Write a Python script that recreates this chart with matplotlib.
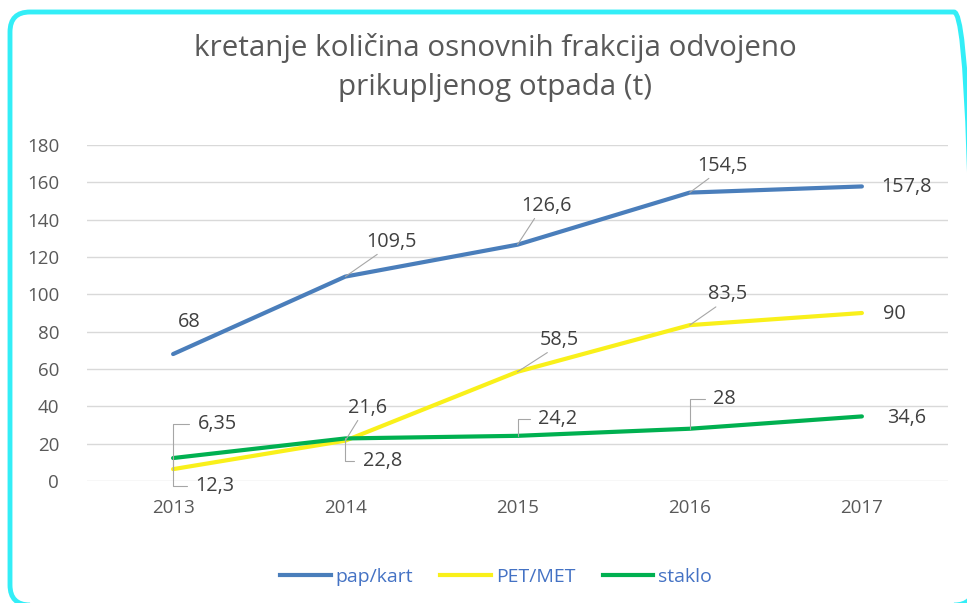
import matplotlib.pyplot as plt
from matplotlib.patches import FancyBboxPatch
from matplotlib.lines import Line2D

plt.rcParams['font.family'] = ['Open Sans', 'DejaVu Sans']

years = ['2013', '2014', '2015', '2016', '2017']
pap_kart = [68, 109.5, 126.6, 154.5, 157.8]
pet_met = [6.35, 21.6, 58.5, 83.5, 90]
staklo = [12.3, 22.8, 24.2, 28, 34.6]
labels_pap = ['68', '109,5', '126,6', '154,5', '157,8']
labels_pet = ['6,35', '21,6', '58,5', '83,5', '90']
labels_sta = ['12,3', '22,8', '24,2', '28', '34,6']

# label offsets in pixels (text centre relative to point) and leader kind
off_pap = [(16, 32), (46, 35), (29, 39), (33, 27), (45, -1)]
lead_pap = [None, 'diag', 'diag', 'diag', None]
off_pet = [(44, 45), (22, 33), (42, 32), (38, 31), (32, -1)]
lead_pet = ['elbow', 'diag', 'diag', 'diag', None]
off_sta = [(42, -28), (37, -23), (40, 17), (35, 30), (45, -2)]
lead_sta = ['elbow', 'elbow', 'elbow', 'elbow', None]

c_pap = '#4A7EBB'
c_pet = '#F9F01A'
c_sta = '#00B050'
txt = '#595959'

fig = plt.figure(figsize=(9.67, 6.03), dpi=100)
ax = fig.add_axes([87 / 967, 1 - 481 / 603, (948 - 87) / 967, (481 - 145) / 603])

x = list(range(len(years)))
ax.plot(x, pap_kart, color=c_pap, lw=3, solid_capstyle='round', zorder=3)
ax.plot(x, pet_met, color=c_pet, lw=3, solid_capstyle='round', zorder=3)
ax.plot(x, staklo, color=c_sta, lw=3, solid_capstyle='round', zorder=4)

ax.set_xlim(-0.5, 4.5)
ax.set_ylim(0, 180)
ax.set_yticks(range(0, 181, 20))
ax.set_xticks(x)
ax.set_xticklabels(years)
ax.grid(axis='y', color='#D9D9D9', lw=1)
ax.set_axisbelow(True)
for s in ax.spines.values():
    s.set_visible(False)
ax.tick_params(length=0, labelsize=13.5, colors=txt)
ax.tick_params(axis='y', pad=20)
ax.tick_params(axis='x', pad=13)

def put_labels(vals, labs, offs, leads):
    for i, (v, lab, off, ld) in enumerate(zip(vals, labs, offs, leads)):
        ap = None
        if ld == 'diag':
            ap = dict(arrowstyle='-', color='#A6A6A6', lw=0.8, shrinkA=0, shrinkB=0,
                      relpos=(0.3, 0.0))
        elif ld == 'elbow':
            ap = dict(arrowstyle='-', color='#A6A6A6', lw=0.8, shrinkA=4, shrinkB=0,
                      relpos=(0.0, 0.5),
                      connectionstyle='angle,angleA=0,angleB=90,rad=0')
        ax.annotate(lab, (i, v), xytext=off, textcoords='offset pixels',
                    ha='center', va='center', fontsize=14.3, color='#404040',
                    arrowprops=ap, zorder=5)

put_labels(pap_kart, labels_pap, off_pap, lead_pap)
put_labels(pet_met, labels_pet, off_pet, lead_pet)
put_labels(staklo, labels_sta, off_sta, lead_sta)

fig.text(0.512, 1 - 48 / 603, 'kretanje količina osnovnih frakcija odvojeno',
         ha='center', va='center', fontsize=21.3, color=txt)
fig.text(0.512, 1 - 88 / 603, 'prikupljenog otpada (t)',
         ha='center', va='center', fontsize=21.3, color=txt)

handles = [Line2D([], [], color=c, lw=3) for c in (c_pap, c_pet, c_sta)]
leg = fig.legend(handles, ['pap/kart', 'PET/MET', 'staklo'], loc='center',
                 bbox_to_anchor=(496 / 967, 1 - 577 / 603), ncol=3, frameon=False,
                 fontsize=14, handlelength=2.6, handletextpad=0.25,
                 columnspacing=1.4)
for t in leg.get_texts():
    t.set_color('#4472C4')

border = FancyBboxPatch((0.10, -0.02), 9.64, 5.93,
                        boxstyle='round,pad=0,rounding_size=0.2',
                        transform=fig.dpi_scale_trans, fill=False,
                        edgecolor='#33EEF7', lw=3.5, zorder=0)
fig.patches.append(border)

fig.savefig('out.png', dpi=100)
